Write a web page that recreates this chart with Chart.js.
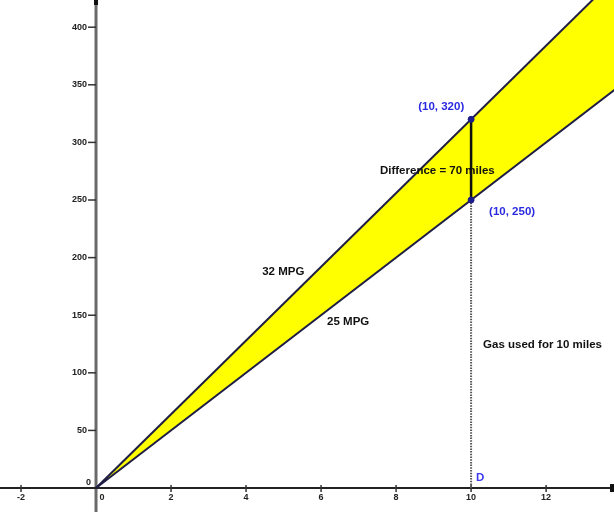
<!DOCTYPE html>
<html>
<head>
<meta charset="utf-8">
<script src="https://cdn.jsdelivr.net/npm/chart.js@4/dist/chart.umd.min.js"></script>
<style>
html,body{margin:0;padding:0;background:#fff;}
#wrap{width:614px;height:512px;}
</style>
</head>
<body>
<div id="wrap"><canvas id="c" width="614" height="512"></canvas></div>
<script>
// ---- data ----
const xEnds = [0, 14];
const miles32 = [0, 448];     // 32 MPG
const miles25 = [0, 350];     // 25 MPG
const markX = [10, 10];
const markY = [320, 250];
const dropY = [250, 0];
const xTicks = [-2, 0, 2, 4, 6, 8, 10, 12];
const yTicks = [0, 50, 100, 150, 200, 250, 300, 350, 400];
const noteText = ['(10, 320)', '(10, 250)', 'Difference = 70 miles', '32 MPG', '25 MPG', 'Gas used for 10 miles', 'D'];
const noteX = [8.59, 10.48, 7.57, 4.43, 6.16, 10.32, 10.13];
const noteY = [331, 240, 275, 188, 144, 124, 9];
const noteColor = ['#2a2ae0', '#2a2ae0', '#111', '#111', '#111', '#111', '#3a3af0'];

const pts = (xs, ys) => xs.map((x, i) => ({x: x, y: ys[i]}));

const axesPlugin = {
  id: 'geoAxes',
  beforeDraw(chart) {
    const ctx = chart.ctx, xs = chart.scales.x, ys = chart.scales.y, a = chart.chartArea;
    const x0 = xs.getPixelForValue(0), y0 = ys.getPixelForValue(0);
    ctx.save();
    // y axis
    ctx.strokeStyle = '#6a6a6a';
    ctx.lineWidth = 3;
    ctx.beginPath(); ctx.moveTo(x0, a.top); ctx.lineTo(x0, a.bottom); ctx.stroke();
    // x axis
    ctx.strokeStyle = '#222';
    ctx.lineWidth = 2;
    ctx.beginPath(); ctx.moveTo(a.left, y0); ctx.lineTo(a.right, y0); ctx.stroke();
    // axis end marks
    ctx.fillStyle = '#111';
    ctx.fillRect(a.right - 4, y0 - 4, 4, 8);
    ctx.fillRect(x0 - 2, a.top, 4, 5);
    // ticks + labels
    ctx.strokeStyle = '#333';
    ctx.lineWidth = 1.5;
    ctx.font = 'bold 9px "Liberation Sans", Arial, sans-serif';
    ctx.fillStyle = '#222';
    ctx.textAlign = 'center'; ctx.textBaseline = 'top';
    xTicks.forEach(v => {
      const px = xs.getPixelForValue(v);
      if (v !== 0) {
        ctx.beginPath(); ctx.moveTo(px, y0 - 3); ctx.lineTo(px, y0 + 4); ctx.stroke();
      }
      ctx.fillText(String(v), px + (v === 0 ? 6 : 0), y0 + 5);
    });
    ctx.textAlign = 'right'; ctx.textBaseline = 'middle';
    yTicks.forEach(v => {
      const py = ys.getPixelForValue(v);
      if (v !== 0) {
        ctx.beginPath(); ctx.moveTo(x0 - 8, py); ctx.lineTo(x0, py); ctx.stroke();
      }
      ctx.fillText(String(v), x0 - (v === 0 ? 5 : 9), py - (v === 0 ? 6 : 0));
    });
    ctx.restore();
  },
  afterDraw(chart) {
    const ctx = chart.ctx, xs = chart.scales.x, ys = chart.scales.y;
    ctx.save();
    ctx.font = 'bold 11.5px "Liberation Sans", Arial, sans-serif';
    ctx.textAlign = 'left'; ctx.textBaseline = 'middle';
    noteText.forEach((t, i) => {
      ctx.fillStyle = noteColor[i];
      ctx.fillText(t, xs.getPixelForValue(noteX[i]), ys.getPixelForValue(noteY[i]));
    });
    ctx.restore();
  }
};

new Chart(document.getElementById('c'), {
  type: 'scatter',
  data: {
    datasets: [
      { label: 'points', data: pts(markX, markY), showLine: false,
        pointRadius: 3, pointBackgroundColor: '#1c1c8a', pointBorderColor: '#1c1c8a' },
      { label: 'difference', data: pts(markX, markY), showLine: true,
        borderColor: '#111', borderWidth: 2.5, pointRadius: 0 },
      { label: 'gas used', data: pts(markX, dropY), showLine: true,
        borderColor: '#555', borderWidth: 2, borderDash: [1.5, 1.2], pointRadius: 0 },
      { label: '32 MPG', data: pts(xEnds, miles32), showLine: true,
        borderColor: '#1e1e44', borderWidth: 2, pointRadius: 0,
        fill: 4, backgroundColor: '#ffff00' },
      { label: '25 MPG', data: pts(xEnds, miles25), showLine: true,
        borderColor: '#1e1e44', borderWidth: 2, pointRadius: 0, fill: false }
    ]
  },
  options: {
    responsive: false,
    animation: false,
    layout: { padding: 0, autoPadding: false },
    scales: {
      x: { type: 'linear', min: -2.56, max: 13.81, display: false },
      y: { type: 'linear', min: -20.8, max: 423.6, display: false }
    },
    plugins: { legend: { display: false }, tooltip: { enabled: false },
      filler: { drawTime: 'beforeDatasetsDraw' } }
  },
  plugins: [axesPlugin]
});
</script>
</body>
</html>
